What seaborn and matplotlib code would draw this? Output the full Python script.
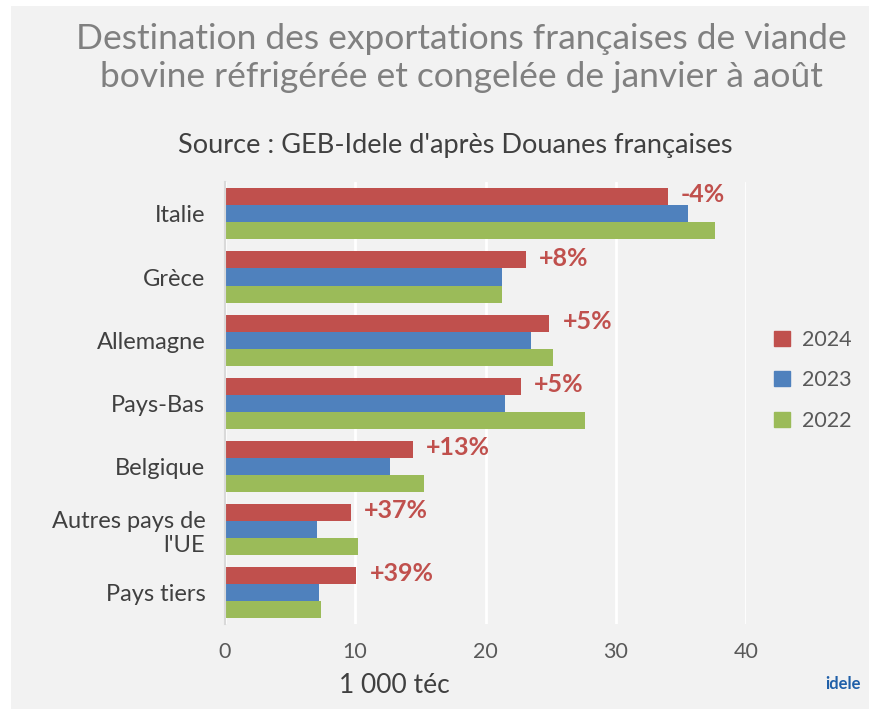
import matplotlib
matplotlib.use("Agg")
import matplotlib.pyplot as plt
import matplotlib.patches as mpatches
import numpy as np
import pandas as pd
import seaborn as sns

pays = ["Italie", "Grèce", "Allemagne", "Pays-Bas", "Belgique", "Autres pays de\nl'UE", "Pays tiers"]
v2024 = [34.0, 23.1, 24.9, 22.7, 14.4, 9.7, 10.1]
v2023 = [35.5, 21.3, 23.5, 21.5, 12.7, 7.1, 7.2]
v2022 = [37.6, 21.3, 25.2, 27.6, 15.3, 10.2, 7.4]
evolution = ["-4%", "+8%", "+5%", "+5%", "+13%", "+37%", "+39%"]
annees = ["2024", "2023", "2022"]
couleurs = ["#C0504D", "#4F81BD", "#9BBB59"]
xticks = [0, 10, 20, 30, 40]

df = pd.DataFrame({
    "pays": pays * 3,
    "annee": ["2024"] * 7 + ["2023"] * 7 + ["2022"] * 7,
    "valeur": v2024 + v2023 + v2022,
})

sns.set_theme(style="white")
plt.rcParams["font.family"] = ["Lato", "DejaVu Sans"]

fig = plt.figure(figsize=(8.78, 7.15), dpi=100)
fig.patch.set_facecolor("white")
fig.patches.append(mpatches.Rectangle((0.012, 0.008), 0.978, 0.984, transform=fig.transFigure,
                                      facecolor="#F2F2F2", edgecolor="none", zorder=-10))

ax = fig.add_axes([0.256, 0.127, 0.594, 0.618])
ax.set_facecolor("#F2F2F2")
sns.barplot(data=df, y="pays", x="valeur", hue="annee", hue_order=annees, palette=couleurs,
            orient="h", width=0.81, ax=ax, legend=False, saturation=1, edgecolor="none")

ax.set_xlim(0, 40)
ax.set_xticks(xticks)
ax.set_xticklabels([str(t) for t in xticks], fontsize=15.5, color="#595959")
ax.tick_params(axis="x", length=0, pad=13)
ax.tick_params(axis="y", length=0, pad=14)
for lab in ax.get_yticklabels():
    lab.set_fontsize(17)
    lab.set_color("#404040")
ax.xaxis.grid(True, color="white", linewidth=2)
ax.set_axisbelow(True)
for s in ["top", "right", "bottom"]:
    ax.spines[s].set_visible(False)
ax.spines["left"].set_color("#D9D9D9")
ax.spines["left"].set_linewidth(1.5)
ax.set_ylabel("")
ax.set_xlabel("1 000 téc", fontsize=19, color="#404040")
ax.xaxis.set_label_coords(0.325, -0.11)

for bar, txt in zip(ax.containers[0], evolution):
    ax.text(bar.get_width() + 1.0, bar.get_y() + bar.get_height() / 2 - 0.03, txt,
            color="#C0504D", fontsize=18, fontweight="bold", va="center", ha="left")

handles = [mpatches.Patch(color=c, label=a) for c, a in zip(couleurs, annees)]
fig.legend(handles=handles, loc="center left", bbox_to_anchor=(0.86, 0.468), frameon=False,
           fontsize=15.5, handlelength=0.7, handleheight=0.7, handletextpad=0.6,
           labelspacing=0.95, labelcolor="#595959")

fig.text(0.526, 0.945, "Destination des exportations françaises de viande", ha="center", va="center",
         fontsize=25.5, color="#808080")
fig.text(0.526, 0.893, "bovine réfrigérée et congelée de janvier à août", ha="center", va="center",
         fontsize=25.5, color="#808080")
fig.text(0.518, 0.797, "Source : GEB-Idele d'après Douanes françaises", ha="center", va="center",
         fontsize=19.5, color="#404040")

fig.text(0.960, 0.043, "idele", ha="center", va="center", fontsize=12, color="#1F5FA8", fontweight="bold")

fig.savefig("out.png", dpi=100, facecolor=fig.get_facecolor())
